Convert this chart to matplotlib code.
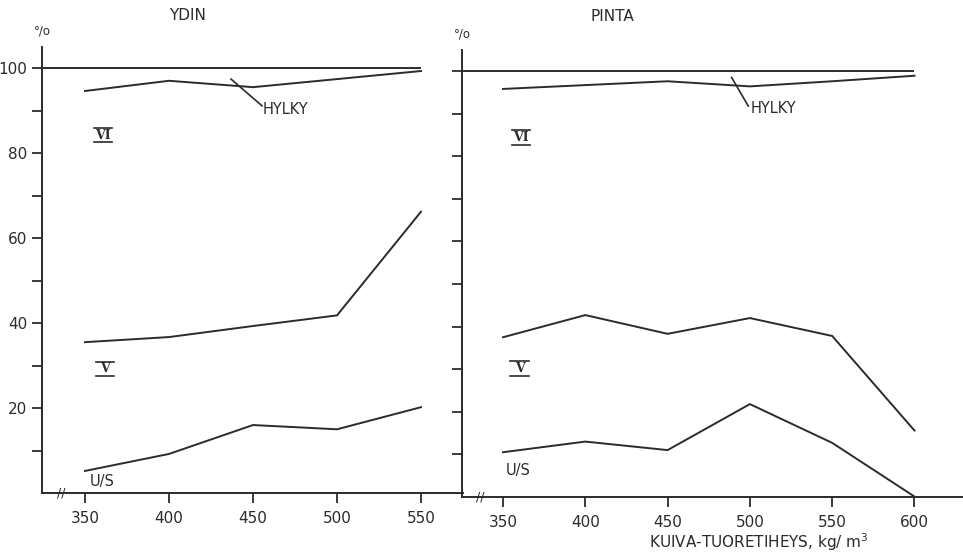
import matplotlib.pyplot as plt
from matplotlib.transforms import offset_copy

# Kuiva-tuoretiheys (kg/m3) ja luokkaosuudet (%)
ydin_x = [350, 400, 450, 500, 550]
ydin_hylky = [94.6, 97.0, 95.5, 97.4, 99.3]
ydin_v = [35.5, 36.7, 39.3, 41.8, 66.2]
ydin_us = [5.2, 9.2, 16.0, 15.0, 20.2]

pinta_x = [350, 400, 450, 500, 550, 600]
pinta_hylky = [95.8, 96.7, 97.6, 96.4, 97.6, 98.9]
pinta_v = [37.5, 42.7, 38.3, 42.0, 37.8, 15.6]
pinta_us = [10.5, 13.0, 11.0, 21.8, 12.7, 0.1]

ydin_yticks = [10, 20, 30, 40, 50, 60, 70, 80, 90, 100]
ydin_ylabels = ['', '20', '', '40', '', '60', '', '80', '', '100']

INK = '#2b2b2b'
plt.rcParams['font.family'] = 'DejaVu Sans'

fig = plt.figure(figsize=(9.63, 5.59), dpi=100)
ax1 = fig.add_axes([0.0436, 0.118, 0.4372, 0.7983])
ax2 = fig.add_axes([0.4798, 0.111, 0.5202, 0.800])


def roman(ax, x, y, s):
    # roomalainen numero viivoineen ylä- ja alapuolella
    ax.text(x, y, s, ha='center', va='center', fontsize=9, family='DejaVu Serif',
            weight='bold', color=INK)
    for dy in (5.2, -5.2):
        tr = offset_copy(ax.transData, fig=fig, x=0, y=dy, units='points')
        ax.plot([x - 5.5, x + 5.5], [y, y], color=INK, lw=1.2, transform=tr)


def setup(ax, xlim, xticks):
    ax.set_xlim(*xlim)
    ax.set_ylim(0, 105)
    for side in ('top', 'right'):
        ax.spines[side].set_visible(False)
    for side in ('left', 'bottom'):
        ax.spines[side].set_color(INK)
        ax.spines[side].set_linewidth(1.4)
    ax.set_xticks(xticks)
    ax.tick_params(axis='both', direction='out', length=7, width=1.3,
                   color=INK, labelcolor=INK, labelsize=11)
    ax.tick_params(axis='x', pad=6)
    ax.set_facecolor('none')
    # katkomerkki x-akselilla
    ax.text(336, 0, '//', ha='center', va='center', fontsize=9, color=INK,
            clip_on=False)
    ax.text(0.0, 1.02, '°/o', transform=ax.transAxes, ha='center', va='bottom',
            fontsize=8.5, color=INK)


# YDIN
setup(ax1, (324.4, 575), ydin_x)
ax1.set_yticks(ydin_yticks)
ax1.set_yticklabels(ydin_ylabels)
ax1.hlines(100, 324.4, ydin_x[-1], color=INK, lw=1.4)
for ys in (ydin_hylky, ydin_v, ydin_us):
    ax1.plot(ydin_x, ys, color=INK, lw=1.4, solid_joinstyle='miter')
ax1.plot([436.9, 455.4], [97.4, 91.1], color=INK, lw=1.2)
ax1.text(456, 90.2, 'HYLKY', ha='left', va='center', fontsize=10.5, color=INK)
roman(ax1, 360.7, 84.2, 'VI')
roman(ax1, 361.9, 29.2, 'V')
ax1.text(353, 2.6, 'U/S', ha='left', va='center', fontsize=10.5, color=INK)

# PINTA
setup(ax2, (325.1, 629.5), pinta_x)
ax2.set_yticks(ydin_yticks)
ax2.set_yticklabels([])
ax2.hlines(100, 325.1, pinta_x[-1], color=INK, lw=1.4)
for ys in (pinta_hylky, pinta_v, pinta_us):
    ax2.plot(pinta_x, ys, color=INK, lw=1.4, solid_joinstyle='miter')
ax2.plot([488.9, 499], [98.5, 91.8], color=INK, lw=1.2)
ax2.text(500.5, 91.1, 'HYLKY', ha='left', va='center', fontsize=10.5, color=INK)
roman(ax2, 360.8, 84.4, 'VI')
roman(ax2, 360.0, 30.2, 'V')
ax2.text(351.8, 6.2, 'U/S', ha='left', va='center', fontsize=10.5, color=INK)

# otsikot ja x-akselin nimi kuvan koordinaateissa
fig.text(0.195, 0.973, 'YDIN', ha='center', va='center', fontsize=11, color=INK)
fig.text(0.636, 0.970, 'PINTA', ha='center', va='center', fontsize=11, color=INK)
fig.text(0.788, 0.030, 'KUIVA-TUORETIHEYS, kg/ m$^3$', ha='center', va='center',
         fontsize=11, color=INK)

fig.savefig('out.png', dpi=100, facecolor='white')
